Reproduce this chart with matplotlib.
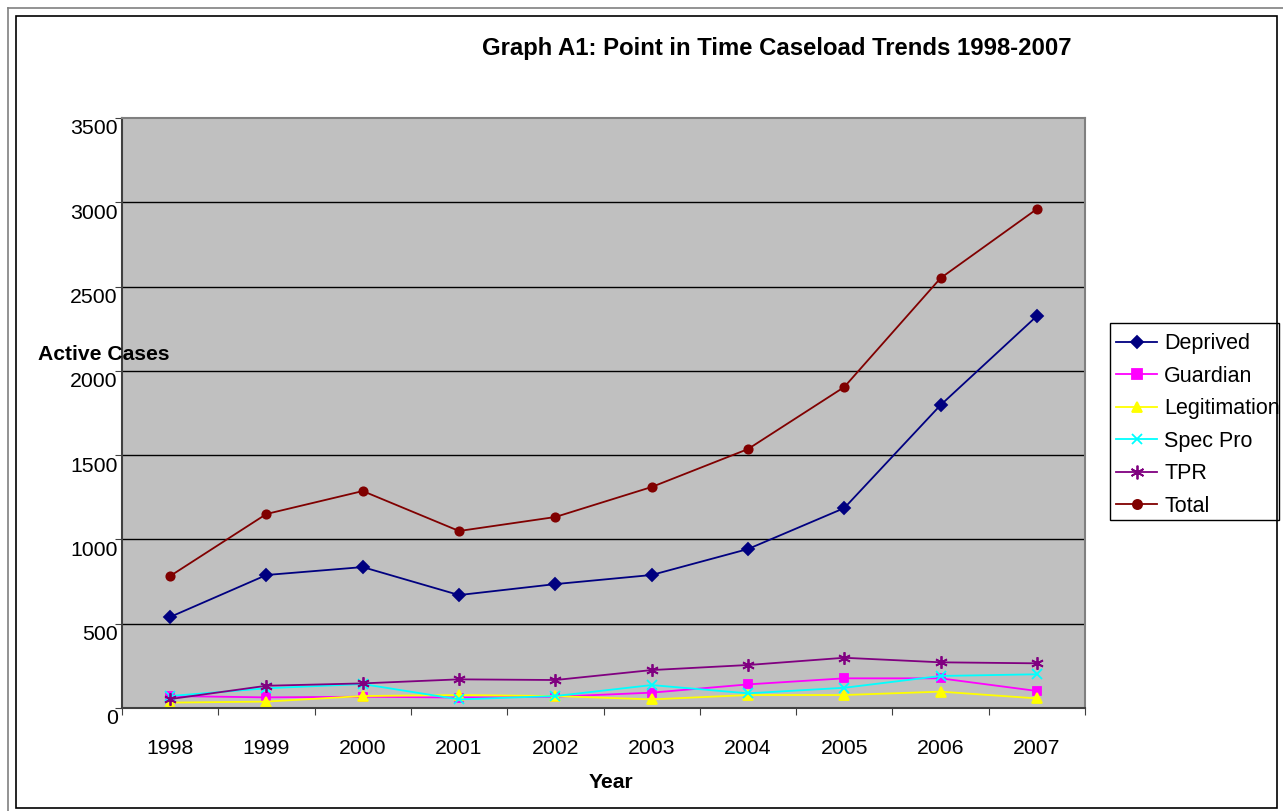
import matplotlib
matplotlib.use("Agg")
from matplotlib import pyplot as plt
from matplotlib.lines import Line2D
from matplotlib.patches import Rectangle
from matplotlib.transforms import ScaledTranslation

plt.rcParams['font.family'] = ['Liberation Sans', 'DejaVu Sans']

years = ["1998", "1999", "2000", "2001", "2002", "2003", "2004", "2005", "2006", "2007"]

deprived = [540, 789, 836, 670, 735, 789, 943, 1186, 1797, 2325]
guardian = [71, 63, 67, 62, 67, 91, 140, 176, 176, 101]
legitimation = [32, 38, 71, 77, 71, 51, 77, 77, 97, 57]
spec_pro = [71, 117, 142, 51, 71, 136, 87, 120, 190, 200]
tpr = [53, 132, 146, 170, 166, 225, 255, 298, 271, 265]
total = [783, 1151, 1287, 1050, 1133, 1311, 1536, 1904, 2550, 2960]

series = [
    ("Deprived", deprived, "#000080", "D", 6),
    ("Guardian", guardian, "#FF00FF", "s", 6),
    ("Legitimation", legitimation, "#FFFF00", "^", 7),
    ("Spec Pro", spec_pro, "#00FFFF", "x", 7),
    ("TPR", tpr, "#800080", (6, 2, 0), 9),
    ("Total", total, "#800000", "o", 6),
]

W, H = 1283, 811
fig = plt.figure(figsize=(W / 100, H / 100), dpi=100)

# outer frame lines
fig.add_artist(Line2D([8 / W, 8 / W], [0, 1 - 8 / H], color="#808080", lw=1.2))
fig.add_artist(Line2D([8 / W, 1], [1 - 8 / H, 1 - 8 / H], color="#808080", lw=1.2))
fig.add_artist(Rectangle((16 / W, 1 - 808 / H), (1277 - 16) / W, (808 - 16) / H,
                         transform=fig.transFigure, fill=False, ec="black", lw=1.2))

ax = fig.add_axes([122 / W, 1 - 708 / H, (1085 - 122) / W, (708 - 118) / H])
ax.set_facecolor("#C0C0C0")

x = list(range(len(years)))
for name, vals, col, mk, ms in series:
    ax.plot(x, vals, color=col, marker=mk, markersize=ms, lw=1.3, label=name,
            markeredgecolor=col, markerfacecolor=col, mew=1.3, clip_on=False)

ax.set_xlim(-0.5, len(years) - 0.5)
ax.set_ylim(0, 3500)
ax.set_yticks(range(0, 3501, 500))
for yv in range(500, 3500, 500):
    ax.axhline(yv, color="black", lw=1, zorder=1)

ax.set_xticks([i - 0.5 for i in range(len(years) + 1)])
ax.set_xticklabels([])
ax.set_xticks(x, minor=True)
ax.set_xticklabels(years, minor=True, fontsize=15.3)
ax.tick_params(axis="x", which="major", length=5, direction="out", color="#404040")
ax.tick_params(axis="x", which="minor", length=0, pad=22)
ax.tick_params(axis="y", length=5, direction="out", labelsize=15.3, pad=-2, color="#404040")
for lab in ax.get_yticklabels():
    lab.set_transform(lab.get_transform() + ScaledTranslation(0, -9 / 100, fig.dpi_scale_trans))

ax.spines["left"].set_color("#404040")
ax.spines["bottom"].set_color("#404040")
ax.spines["top"].set_color("#808080")
ax.spines["right"].set_color("#808080")
for sp in ax.spines.values():
    sp.set_linewidth(1.5)

fig.text(777 / W, 1 - 48 / H, "Graph A1: Point in Time Caseload Trends 1998-2007",
         ha="center", va="center", fontsize=17.2, fontweight="bold")
fig.text(38 / W, 1 - 355 / H, "Active Cases", ha="left", va="center",
         fontsize=15.2, fontweight="bold", zorder=5)
fig.text(611 / W, 1 - 783 / H, "Year", ha="center", va="center",
         fontsize=15.2, fontweight="bold")

# legend box drawn by hand, the text overflows it like the original
fig.add_artist(Rectangle((1110 / W, 1 - 520 / H), (1279 - 1110) / W, (520 - 323) / H,
                         transform=fig.transFigure, fc="white", ec="black", lw=1, zorder=-1))
leg = ax.legend(loc="upper left", bbox_to_anchor=(1110 / W, 1 - 327 / H),
                bbox_transform=fig.transFigure, borderaxespad=0, fontsize=15.5,
                frameon=False, handlelength=1.9, handletextpad=0.32,
                labelspacing=0.53, borderpad=0.3, markerscale=1.1)

fig.savefig("out.png", dpi=100)
